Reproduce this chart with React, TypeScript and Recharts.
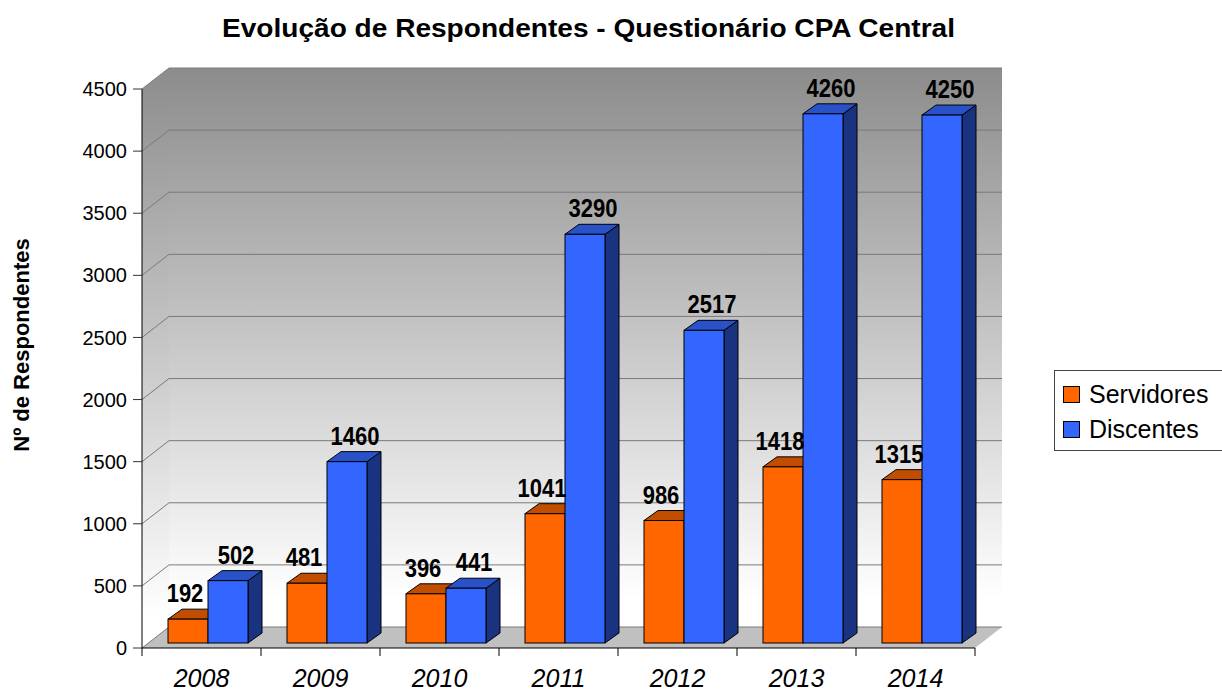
import { BarChart, Bar, XAxis, YAxis, CartesianGrid, Legend, LabelList } from 'recharts';

const years = ['2008', '2009', '2010', '2011', '2012', '2013', '2014'];
const servidores = [192, 481, 396, 1041, 986, 1418, 1315];
const discentes = [502, 1460, 441, 3290, 2517, 4260, 4250];
const yTicks = [0, 500, 1000, 1500, 2000, 2500, 3000, 3500, 4000, 4500];
const seriesNames: Record<string, string> = { servidores: 'Servidores', discentes: 'Discentes' };
const seriesOrder = ['servidores', 'discentes'];

const data = years.map((year, i) => ({ year, servidores: servidores[i], discentes: discentes[i] }));

const FONT = '"Liberation Sans", Arial, sans-serif';
const W = 1222;
const H = 693;
// front plane of the plot
const LEFT = 142;
const RIGHT = 975;
const TOP = 89;
const BOTTOM = 648;
// wall depth
const WDX = 27;
const WDY = -21;
// bar placement inside the depth, and bar depth
const BDX = 6;
const BDY = -5;
const DDX = 14;
const DDY = -10;
const BAND = (RIGHT - LEFT) / years.length;

const makeBox = (front: string, top: string, side: string) => (props: any) => {
  const { x, y, width, height } = props;
  if (!height || height <= 0) return <g />;
  const X = x + BDX;
  const Y = y + BDY;
  const w = width;
  const h = height;
  return (
    <g>
      <polygon
        points={`${X + w},${Y} ${X + w + DDX},${Y + DDY} ${X + w + DDX},${Y + h + DDY} ${X + w},${Y + h}`}
        fill={side}
        stroke="#000"
        strokeWidth={1}
      />
      <polygon
        points={`${X},${Y} ${X + DDX},${Y + DDY} ${X + w + DDX},${Y + DDY} ${X + w},${Y}`}
        fill={top}
        stroke="#000"
        strokeWidth={1}
      />
      <rect x={X} y={Y} width={w} height={h} fill={front} stroke="#000" strokeWidth={1} />
    </g>
  );
};

const makeLabel = (shift: number) => (props: any) => {
  const { x, y, width, value } = props;
  const cx = x + width / 2 + BDX + shift;
  const cy = y + BDY - 17;
  return (
    <text
      transform={`translate(${cx},${cy}) scale(0.88,1)`}
      textAnchor="middle"
      fontFamily={FONT}
      fontWeight="bold"
      fontSize={25}
      fill="#000"
    >
      {value}
    </text>
  );
};

const YearTick = (props: any) => {
  const { x, y, payload, index } = props;
  const left = x - BAND / 2;
  return (
    <g>
      <line x1={left} y1={BOTTOM} x2={left} y2={BOTTOM + 8} stroke="#000" />
      {index === years.length - 1 && (
        <line x1={x + BAND / 2} y1={BOTTOM} x2={x + BAND / 2} y2={BOTTOM + 8} stroke="#000" />
      )}
      <text x={x} y={y + 39} textAnchor="middle" fontFamily={FONT} fontStyle="italic" fontSize={25} fill="#000">
        {payload.value}
      </text>
    </g>
  );
};

const WallGridLine = (props: any) => {
  const { x1, x2, y1 } = props;
  return (
    <g>
      <line x1={x1} y1={y1} x2={x1 + WDX} y2={y1 + WDY} stroke="#7a7a7a" strokeWidth={1} />
      <line x1={x1 + WDX} y1={y1 + WDY} x2={x2 + WDX} y2={y1 + WDY} stroke="#7a7a7a" strokeWidth={1} />
    </g>
  );
};

const LegendBox = (props: any) => {
  const items = [...(props.payload || [])].sort(
    (a: any, b: any) => seriesOrder.indexOf(a.dataKey) - seriesOrder.indexOf(b.dataKey)
  );
  return (
    <div
      style={{
        border: '1px solid #444',
        background: '#fff',
        width: 190,
        height: 81,
        boxSizing: 'border-box',
        padding: '6px 0 0 8px',
        fontFamily: FONT,
      }}
    >
      {items.map((p: any) => (
        <div key={p.dataKey} style={{ display: 'flex', alignItems: 'center', height: 35, fontSize: 25, color: '#000' }}>
          <span
            style={{
              display: 'inline-block',
              width: 15,
              height: 15,
              background: p.color,
              border: '1px solid #000',
              marginRight: 9,
            }}
          />
          {seriesNames[p.dataKey]}
        </div>
      ))}
    </div>
  );
};

export default function App() {
  return (
    <div style={{ position: 'absolute', left: 0, top: 0, width: W, height: H, background: '#fff', fontFamily: FONT }}>
      <svg width={W} height={H} style={{ position: 'absolute', left: 0, top: 0 }}>
        <defs>
          <linearGradient id="wall" x1="0" y1="0" x2="0" y2="1">
            <stop offset="0%" stopColor="#8c8c8c" />
            <stop offset="95%" stopColor="#ffffff" />
            <stop offset="100%" stopColor="#ffffff" />
          </linearGradient>
        </defs>
        <text
          x={222}
          y={37}
          textLength={733}
          lengthAdjust="spacingAndGlyphs"
          fontFamily={FONT}
          fontWeight="bold"
          fontSize={26}
          fill="#000"
        >
          Evolução de Respondentes - Questionário CPA Central
        </text>
        <text
          transform={`translate(29,345) rotate(-90)`}
          textAnchor="middle"
          fontFamily={FONT}
          fontWeight="bold"
          fontSize={22}
          fill="#000"
        >
          Nº de Respondentes
        </text>
        <polygon
          points={`${LEFT},${TOP} ${LEFT + WDX},${TOP + WDY} ${LEFT + WDX},${BOTTOM + WDY} ${LEFT},${BOTTOM}`}
          fill="url(#wall)"
        />
        <rect x={LEFT + WDX} y={TOP + WDY} width={RIGHT - LEFT} height={BOTTOM - TOP} fill="url(#wall)" />
        <polygon
          points={`${LEFT},${BOTTOM} ${LEFT + WDX},${BOTTOM + WDY} ${RIGHT + WDX},${BOTTOM + WDY} ${RIGHT},${BOTTOM}`}
          fill="#c0c0c0"
        />
      </svg>
      <div style={{ position: 'absolute', left: 0, top: 0 }}>
        <BarChart
          width={W}
          height={H}
          data={data}
          margin={{ top: TOP, right: W - RIGHT, bottom: 0, left: 0 }}
          barGap={0}
          barSize={40}
        >
          <CartesianGrid vertical={false} horizontal={WallGridLine} />
          <XAxis
            dataKey="year"
            height={H - BOTTOM}
            interval={0}
            tickLine={false}
            tickSize={0}
            tickMargin={0}
            axisLine={{ stroke: '#000' }}
            tick={YearTick}
          />
          <YAxis
            type="number"
            domain={[0, 4500]}
            ticks={yTicks}
            width={LEFT}
            tickSize={9}
            tickMargin={6}
            axisLine={{ stroke: '#000' }}
            tickLine={{ stroke: '#333' }}
            tick={{ fill: '#000', fontSize: 20, fontFamily: FONT }}
          />
          <Legend
            layout="vertical"
            align="center"
            verticalAlign="middle"
            content={LegendBox}
            wrapperStyle={{ left: 1054, top: 370, width: 190 }}
          />
          <Bar dataKey="servidores" fill="#ff6600" isAnimationActive={false} shape={makeBox('#ff6600', '#c04d00', '#993d00')}>
            <LabelList dataKey="servidores" content={makeLabel(-3)} />
          </Bar>
          <Bar dataKey="discentes" fill="#3366ff" isAnimationActive={false} shape={makeBox('#3366ff', '#2a52c8', '#1a3380')}>
            <LabelList dataKey="discentes" content={makeLabel(8)} />
          </Bar>
        </BarChart>
      </div>
    </div>
  );
}
